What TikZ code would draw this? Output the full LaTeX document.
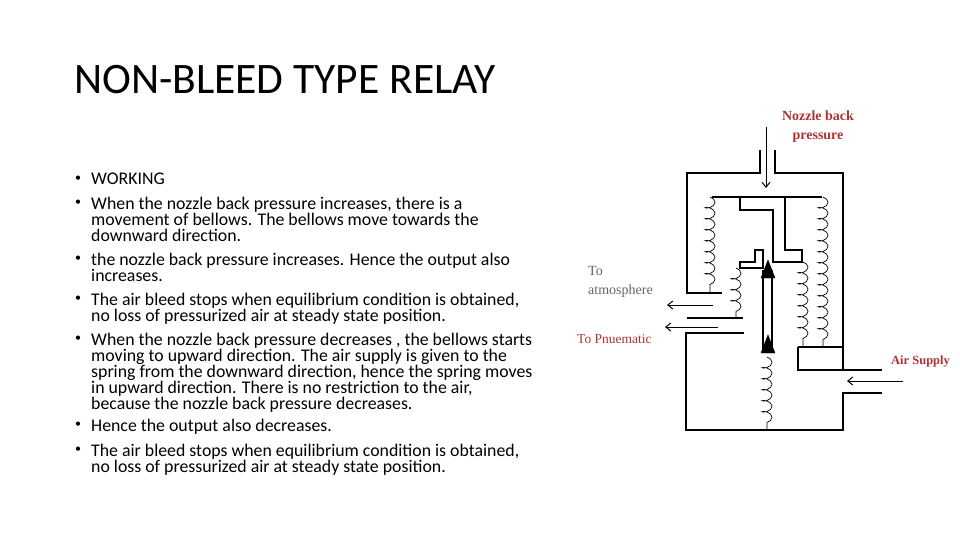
\documentclass[tikz,border=0pt]{standalone}
\usepackage{fontspec}
\setmainfont{Carlito}
\newfontfamily\lab{Liberation Serif}
\usetikzlibrary{decorations.pathmorphing,arrows.meta}
\begin{document}
\begin{tikzpicture}[x=1pt,y=-1pt,
  wall/.style={line width=1.6pt},
  thin/.style={line width=1.1pt},
  coilsp/.style={line width=0.7pt,decorate,decoration={coil,aspect=0.5,segment length=11pt,amplitude=5pt}},
  flow/.style={line width=1pt,-{Straight Barb[length=5pt,width=8pt]}},
  bul/.style={anchor=north west,font=\fontsize{17.8}{16}\selectfont,align=left,inner sep=0pt},
  redlab/.style={font=\lab\bfseries\fontsize{14}{19}\selectfont,text=red!60!black!80,align=center,inner sep=0pt},
  tri/.style={fill=black}]
\useasboundingbox (0,0) rectangle (960,540);
\node[anchor=base west,inner sep=0pt,font=\fontsize{43.5}{46}\selectfont] (title) at (74,94) {NON-BLEED TYPE RELAY};
% bullets
\foreach \y/\t [count=\i] in {179/WORKING,
 203/{When the nozzle back pressure increases, there is a\\movement of bellows. The bellows move towards the\\downward direction.},
 259/{the nozzle back pressure increases. Hence the output also\\increases.},
 299/{The air bleed stops when equilibrium condition is obtained,\\no loss of pressurized air at steady state position.},
 339/{When the nozzle back pressure decreases , the bellows starts\\moving to upward direction. The air supply is given to the\\spring from the downward direction, hence the spring moves\\in upward direction. There is no restriction to the air,\\because the nozzle back pressure decreases.},
 425/{Hence the output also decreases.},
 450/{The air bleed stops when equilibrium condition is obtained,\\no loss of pressurized air at steady state position.}}
 {\node[inner sep=0pt,font=\fontsize{12}{16}\selectfont] (d\i) at (78,\y) {\textbullet}; \node[bul] (b\i) at (91,\y-6) {\t};}
% housing
\draw[wall] (760,150) -- (760,173) -- (687,173) -- (687,293) -- (722,293);
\draw[wall] (775,150) -- (775,173) -- (843,173) -- (843,370) -- (882,370);
\draw[wall] (882,393) -- (843,393) -- (843,430) -- (686,430) -- (686,333) -- (744,333);
\draw[wall] (687,318) -- (743,318);
% top plate and stem
\draw[thin] (712,197) -- (822,197);
\draw[thin] (740,197) -- (740,210) -- (773,210) -- (773,262) -- (802,262) -- (802,250) -- (785,250) -- (785,197);
\draw[thin] (755,250) -- (763,250) -- (763,268) -- (740,268) -- (740,262) -- (755,262) -- cycle;
% box bottom right
\draw[thin] (798,347) -- (843,347); \draw[thin] (798,347) -- (798,370) -- (843,370);
% bellows
\draw[coilsp] (710,197) -- (710,293);
\draw[coilsp] (823,197) -- (823,347);
\draw[coilsp] (736,268) -- (736,318);
\draw[coilsp] (803,262) -- (803,347);
\draw[coilsp] (767,357) -- (767,430);
% stem rod
\draw[thin] (763,270) -- (763,350); \draw[thin] (772,270) -- (772,350);
\draw[tri] (768,260) -- (775,278) -- (761,278) -- cycle;
\draw[tri] (768,335) -- (775,353) -- (761,353) -- cycle;
% flows
\coordinate (ntop) at (766,127); \coordinate (nbot) at (766,188);
\draw[flow] (ntop) -- (nbot);
\coordinate (a1) at (713,305); \coordinate (a2) at (667,305);
\draw[flow] (a1) -- (a2);
\coordinate (p1) at (718,327); \coordinate (p2) at (665,327);
\draw[flow] (p1) -- (p2);
\coordinate (s1) at (903,381); \coordinate (s2) at (847,381);
\draw[flow] (s1) -- (s2);
% labels
\node[redlab] (nbp) at (818,127) {Nozzle back\\pressure};
\node[font=\lab\fontsize{14}{19}\selectfont,text=gray!80!black,align=left,anchor=west,inner sep=0pt] (atm) at (588,282) {To\\atmosphere};
\node[redlab,font=\lab\fontsize{13.5}{19}\selectfont,anchor=west] (pn) at (577,339) {To Pnuematic};
\node[redlab,font=\lab\bfseries\fontsize{12.5}{19}\selectfont,anchor=west] (as) at (891,362) {Air Supply};
\end{tikzpicture}
\end{document}
